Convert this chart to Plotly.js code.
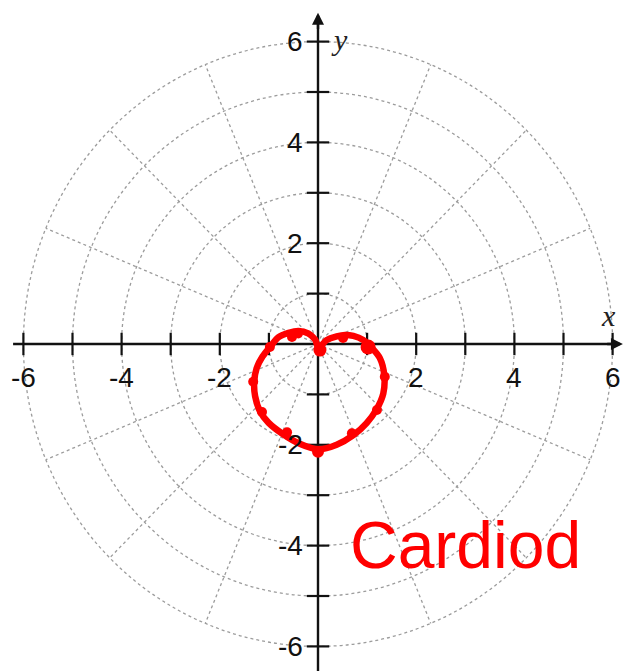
<!DOCTYPE html>
<html><head><meta charset="utf-8">
<script src="https://cdn.plot.ly/plotly-3.0.1.min.js"></script>
<style>html,body{margin:0;padding:0;background:#fff;}#chart{width:624px;height:671px;}</style>
</head><body><div id="chart"></div>
<script>
// ---- data ----
const tickValues = [-6, -5, -4, -3, -2, -1, 1, 2, 3, 4, 5, 6];
const labelValues = [-6, -4, -2, 2, 4, 6];
const tickLabels = ['-6', '-4', '-2', '2', '4', '6'];
const gridRadii = [1, 2, 3, 4, 5, 6];
const spokeAnglesDeg = [0, 22.5, 45, 67.5, 90, 112.5, 135, 157.5, 180, 202.5, 225, 247.5, 270, 292.5, 315, 337.5];
// hand-drawn cardioid r = 1 - sin(theta)
const curveX = [0.01, 0.18, 0.38, 0.55, 0.72, 0.92, 1.09, 1.26, 1.35, 1.33, 1.19, 0.99, 0.72, 0.38, 0.01, -0.37, -0.71, -1.01, -1.18, -1.28, -1.30, -1.25, -1.13, -0.96, -0.81, -0.60, -0.40, -0.20, -0.06, 0.01];
const curveY = [-0.07, 0.08, 0.15, 0.18, 0.16, 0.08, -0.07, -0.28, -0.62, -0.98, -1.30, -1.57, -1.81, -2.00, -2.09, -1.98, -1.79, -1.56, -1.34, -1.04, -0.75, -0.48, -0.25, -0.04, 0.13, 0.22, 0.26, 0.21, 0.09, -0.07];
// plotted points
const dotX = [0.04, 1.02, 0.51, -0.53, -0.40, -0.98, -1.32, -1.14, -0.63, 0.00, 0.69, 1.20, 1.36];
const dotY = [-0.12, -0.06, 0.12, 0.14, 0.20, -0.06, -0.75, -1.35, -1.75, -2.14, -1.77, -1.31, -0.65];
const dotSize = [13, 15, 10, 10, 9, 10, 10, 10, 10, 12, 10, 10, 10];
const noteText = 'Cardiod';

// ---- layout geometry ----
const X_RANGE = [-318 / 49.1, 306 / 49.1];
const Y_RANGE = [-327 / 50.4, 344 / 50.4];
const R_MAX = Math.max(...gridRadii);
const AXIS_X_END = 6.21, AXIS_Y_END = 6.57;

const GRID = {color: '#9c9c9c', width: 1.3, dash: '3px,3px'};
const shapes = [];
gridRadii.forEach(r => shapes.push({type: 'circle', xref: 'x', yref: 'y', x0: -r, x1: r, y0: -r, y1: r, line: GRID, layer: 'below'}));
spokeAnglesDeg.forEach(a => {
  const t = a * Math.PI / 180;
  shapes.push({type: 'line', xref: 'x', yref: 'y', x0: 0, y0: 0, x1: R_MAX * Math.cos(t), y1: R_MAX * Math.sin(t), line: GRID, layer: 'below'});
});
shapes.push({type: 'line', xref: 'x', yref: 'y', x0: -AXIS_X_END, y0: 0, x1: AXIS_X_END - 0.1, y1: 0, line: {color: '#111', width: 2.4}, layer: 'below'});
shapes.push({type: 'line', xref: 'x', yref: 'y', x0: 0, y0: Y_RANGE[0], x1: 0, y1: AXIS_Y_END - 0.05, line: {color: '#111', width: 2.4}, layer: 'below'});

const zeros = tickValues.map(() => 0);
const traces = [
  {x: tickValues, y: zeros, mode: 'markers', hoverinfo: 'skip',
   marker: {symbol: 'line-ns', size: 16, line: {color: '#111', width: 2.2}}},
  {x: zeros, y: tickValues, mode: 'markers', hoverinfo: 'skip',
   marker: {symbol: 'line-ew', size: 16, line: {color: '#111', width: 2.2}}},
  {x: curveX, y: curveY, mode: 'lines', hoverinfo: 'skip',
   line: {color: '#ff0000', width: 6.5, shape: 'spline', smoothing: 1}},
  {x: dotX, y: dotY, mode: 'markers', hoverinfo: 'skip',
   marker: {color: '#ff0000', size: dotSize, opacity: 1, line: {width: 0}}}
];

const LBL_FONT = {family: 'Liberation Sans, Arial, sans-serif', size: 28, color: '#111'};
const annotations = [];
labelValues.forEach((v, i) => {
  annotations.push({x: v, y: 0, xref: 'x', yref: 'y', text: tickLabels[i], showarrow: false,
    xanchor: 'center', yanchor: 'middle', yshift: -33, font: LBL_FONT});
  annotations.push({x: 0, y: v, xref: 'x', yref: 'y', text: tickLabels[i], showarrow: false,
    xanchor: 'right', yanchor: 'middle', xshift: -13, font: LBL_FONT});
});
// arrowheads
annotations.push({x: AXIS_X_END, y: 0, ax: AXIS_X_END - 0.35, ay: 0, xref: 'x', yref: 'y', axref: 'x', ayref: 'y',
  text: '', showarrow: true, arrowhead: 2, arrowsize: 1, arrowwidth: 2.4, arrowcolor: '#111', standoff: 0});
annotations.push({x: 0, y: AXIS_Y_END, ax: 0, ay: AXIS_Y_END - 0.35, xref: 'x', yref: 'y', axref: 'x', ayref: 'y',
  text: '', showarrow: true, arrowhead: 2, arrowsize: 1, arrowwidth: 2.4, arrowcolor: '#111', standoff: 0});
// axis names
annotations.push({x: 608 / 624, y: 1 - 315 / 671, xref: 'paper', yref: 'paper', text: '<i>x</i>', showarrow: false,
  xanchor: 'center', yanchor: 'middle', font: {family: 'Liberation Serif, Times New Roman, serif', size: 30, color: '#222'}});
annotations.push({x: 339 / 624, y: 1 - 40 / 671, xref: 'paper', yref: 'paper', text: '<i>y</i>', showarrow: false,
  xanchor: 'center', yanchor: 'middle', font: {family: 'Liberation Serif, Times New Roman, serif', size: 30, color: '#222'}});
// handwritten note
annotations.push({x: 465 / 624, y: 1 - 545 / 671, xref: 'paper', yref: 'paper', text: noteText, showarrow: false,
  xanchor: 'center', yanchor: 'middle', font: {family: 'Liberation Sans, Arial, sans-serif', size: 66, color: '#ff0000'}});

const layout = {
  width: 624, height: 671, margin: {l: 0, r: 0, t: 0, b: 0, pad: 0},
  paper_bgcolor: '#ffffff', plot_bgcolor: '#ffffff', showlegend: false,
  xaxis: {range: X_RANGE, visible: false, fixedrange: true},
  yaxis: {range: Y_RANGE, visible: false, fixedrange: true},
  shapes: shapes, annotations: annotations
};
Plotly.newPlot('chart', traces, layout, {displayModeBar: false, staticPlot: true});
</script></body></html>
